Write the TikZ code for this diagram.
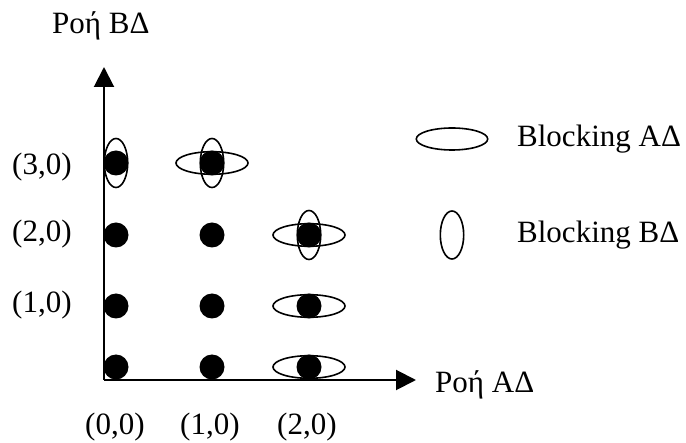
\documentclass[tikz,border=0pt]{standalone}
\usepackage{fontspec}
\setmainfont{Liberation Serif}
\usetikzlibrary{arrows.meta}
\begin{document}
\begin{tikzpicture}[x=1pt,y=-1pt,
  axis/.style={line width=2pt, -{Triangle[length=20pt,width=20pt]}},
  state/.style={circle, fill=black, inner sep=0pt, minimum size=25pt},
  blk/.style={line width=1.6pt},
  lbl/.style={inner sep=0pt, anchor=base west, font=\fontsize{31}{36}\selectfont}]
\useasboundingbox (0,0) rectangle (686,443);

% axes
\coordinate (O) at (104,380);
\coordinate (ytip) at (104,67);
\coordinate (xtip) at (416,380);
\draw[axis] (O) -- (ytip);
\draw[axis] (O) -- (xtip);

% axis titles
\node[lbl] (ytitle) at (52,34) {Ροή ΒΔ};
\node[lbl] (xtitle) at (435,393) {Ροή ΑΔ};

% tick labels
\node[lbl] (y3) at (12,175) {(3,0)};
\node[lbl] (y2) at (12,242) {(2,0)};
\node[lbl] (y1) at (12,313) {(1,0)};
\node[lbl] (x0) at (85,435) {(0,0)};
\node[lbl] (x1) at (180,435) {(1,0)};
\node[lbl] (x2) at (277,435) {(2,0)};

% states: columns 0 and 1 up to row 3
\foreach \c/\x in {0/116,1/212}
  \foreach \r/\y in {0/367,1/306,2/235,3/163}
    \node[state] (s\c\r) at (\x,\y) {};
% column 2 up to row 2
\foreach \r/\y in {0/367,1/306,2/235}
  \node[state] (s2\r) at (309,\y) {};

% blocking in direction A (horizontal)
\foreach \n in {s13,s22,s21,s20}
  \draw[blk] (\n) ellipse [x radius=36pt, y radius=11.3pt];
% blocking in direction B (vertical)
\foreach \n in {s03,s13,s22}
  \draw[blk] (\n) ellipse [x radius=11.7pt, y radius=24.5pt];

% legend
\coordinate (legA) at (452,139);
\coordinate (legB) at (452,235);
\draw[blk] (legA) ellipse [x radius=35.7pt, y radius=11pt];
\draw[blk] (legB) ellipse [x radius=11.7pt, y radius=24pt];
\node[lbl] (legAtext) at (517,147) {Blocking ΑΔ};
\node[lbl] (legBtext) at (517,243) {Blocking ΒΔ};
\end{tikzpicture}
\end{document}
